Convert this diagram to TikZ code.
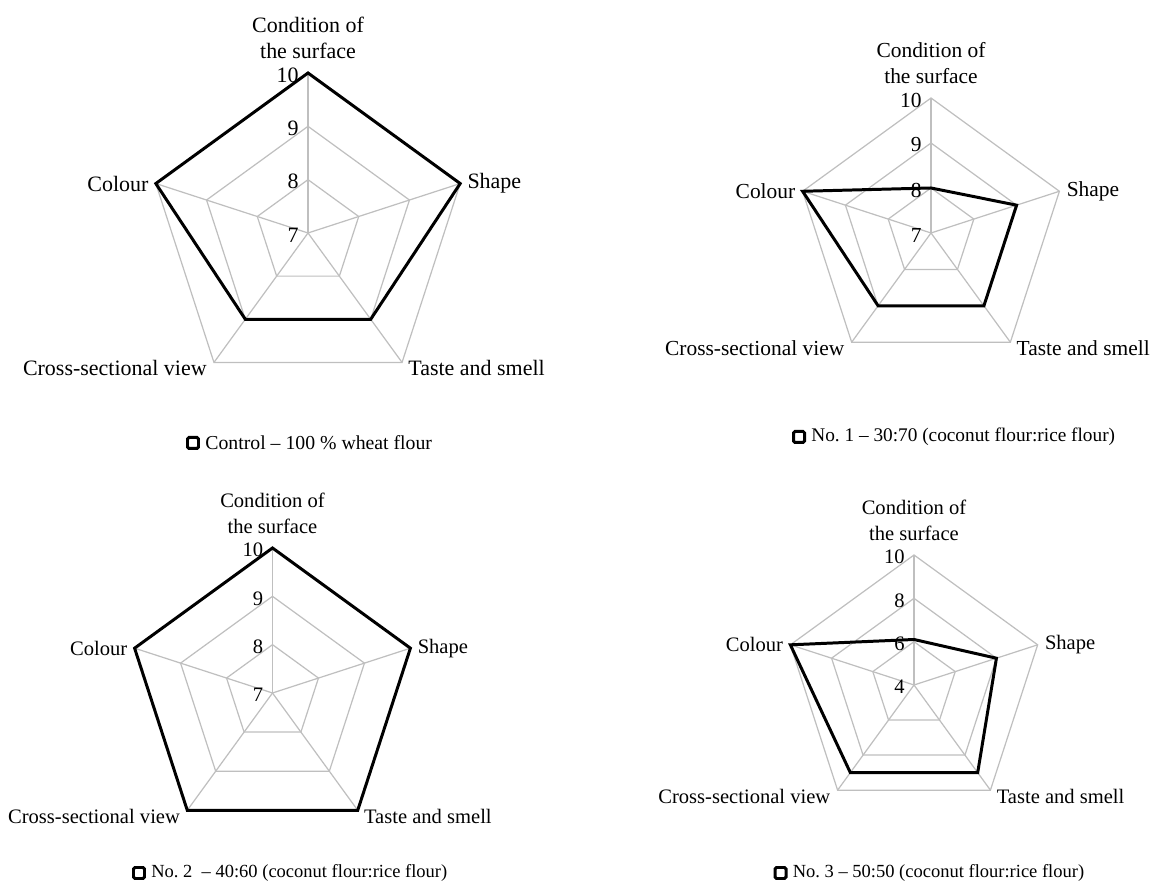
\documentclass[tikz,border=0pt]{standalone}
\usepackage{fontspec}
\setmainfont{Liberation Serif}
\usetikzlibrary{positioning,calc}
\definecolor{gridgrey}{RGB}{191,191,191}

\begin{document}
\begin{tikzpicture}[x=0.02cm, y=0.02cm, >=stealth,
  grid line/.style={draw=gridgrey, line width=0.7pt},
  series line/.style={draw=black, line width=1.7pt, line join=miter},
  legend box/.style={draw=black, line width=1.7pt, fill=white, rounded corners=0.8pt,
    minimum size=0.22cm, inner sep=0pt},
  txt/.style={inner sep=0pt}]

\useasboundingbox (0,0) rectangle (1155,881);

\foreach \id/\cx/\cy/\r/\lo/\dv/\fs/\vals/\lx/\ly/\lgd in {
  1/308/648/160/7/1/12.5/{10,10,9,9,10}/193/438/{Control – 100 \% wheat flour},
  2/931/648/135/7/1/12.2/{8,9,9,9,10}/799/444/{No.\ 1 – 30:70 (coconut flour:rice flour)},
  3/272.5/188/145/7/1/11.7/{10,10,10,10,10}/139/8/{No.\ 2~ – 40:60 (coconut flour:rice flour)},
  4/914/196/130/4/2/11.7/{6.1,8,9,9,10}/780.5/8/{No.\ 3 – 50:50 (coconut flour:rice flour)}}
{
  \begin{scope}[shift={(\cx,\cy)}, font=\fontsize{\fs pt}{15pt}\selectfont]
    \coordinate (c\id-o) at (0,0);
    \foreach \k in {0,...,4}
      \coordinate (c\id-v\k) at (90-72*\k:\r);

    % grid
    \foreach \k in {0,...,4}
      \draw [grid line] (c\id-o) -- (c\id-v\k);
    \foreach \i in {1,2,3}
      \draw [grid line] (90:{\r*\i/3}) -- (18:{\r*\i/3}) -- (-54:{\r*\i/3})
        -- (-126:{\r*\i/3}) -- (162:{\r*\i/3}) -- cycle;

    \foreach \i in {0,...,3} {
      \pgfmathtruncatemacro\tk{\lo+\i*\dv}
      \node [txt, anchor=east] (c\id-t\i) at (-9,{\r*\i/3-2}) {\tk};
    }

    % series
    \foreach \v [count=\k from 0] in \vals
      \coordinate (c\id-d\k) at (90-72*\k:{(\v-\lo)/(3*\dv)*\r});
    \draw [series line] (c\id-d0) -- (c\id-d1) -- (c\id-d2) -- (c\id-d3) -- (c\id-d4) -- cycle;

    % category labels
    \node [txt, align=center, above=0.28cm of c\id-v0] (c\id-cond) {Condition of\\the surface};
    \node [txt, right=0.14cm of c\id-v1] (c\id-shape) {Shape};
    \node [txt, anchor=west] (c\id-taste) at ($(c\id-v2)+(6,-6)$) {Taste and smell};
    \node [txt, anchor=east] (c\id-cross) at ($(c\id-v3)+(-7,-6)$) {Cross-sectional view};
    \node [txt, left=0.14cm of c\id-v4] (c\id-colour) {Colour};
  \end{scope}

  % legend
  \pgfmathsetmacro\lfs{0.9*\fs}
  \node [legend box] (c\id-key) at (\lx,\ly) {};
  \node [txt, right=0.1cm of c\id-key, font=\fontsize{\lfs pt}{13pt}\selectfont] (c\id-lgd) {\lgd};
}

\end{tikzpicture}
\end{document}
